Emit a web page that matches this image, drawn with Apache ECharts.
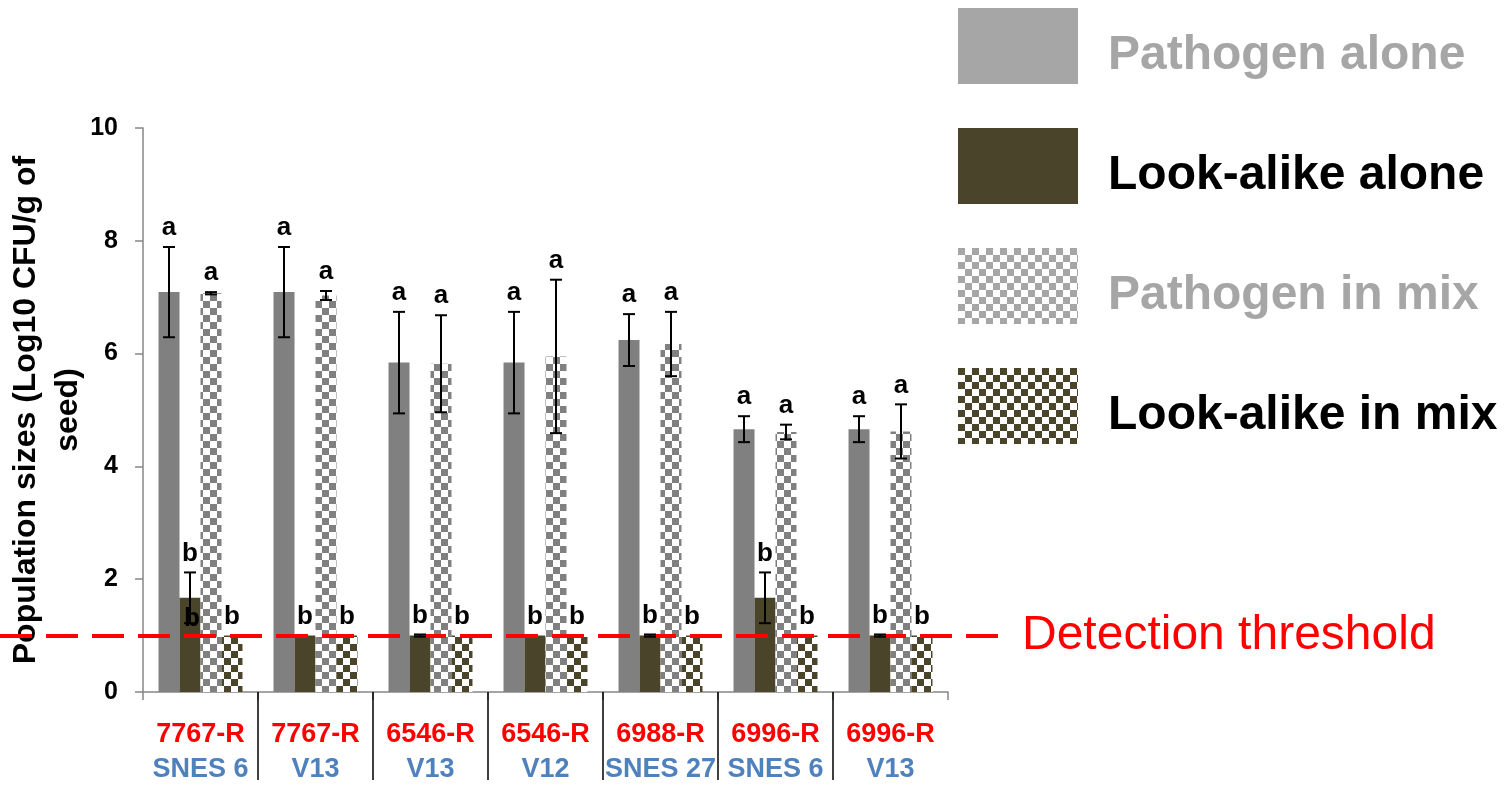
<!DOCTYPE html>
<html>
<head>
<meta charset="utf-8">
<script src="https://cdn.jsdelivr.net/npm/echarts@6/dist/echarts.min.js"></script>
<style>
html,body{margin:0;padding:0;background:#fff;}
#chart{width:1510px;height:789px;}
</style>
</head>
<body>
<div id="chart"></div>
<script>
// ---------------- data ----------------
const strainLabels = ['7767-R', '7767-R', '6546-R', '6546-R', '6988-R', '6996-R', '6996-R'];
const seedLabels = ['SNES 6', 'V13', 'V13', 'V12', 'SNES 27', 'SNES 6', 'V13'];
const seriesNames = ['Pathogen alone', 'Look-alike alone', 'Pathogen in mix', 'Look-alike in mix'];

const pathogenAlone = [7.09, 7.09, 5.84, 5.84, 6.24, 4.66, 4.66];
const pathogenAloneErr = [0.80, 0.80, 0.90, 0.90, 0.46, 0.23, 0.23];
const lookAlikeAlone = [1.67, 1.00, 1.00, 1.00, 1.00, 1.67, 1.00];
const lookAlikeAloneErr = [0.45, 0, 0.02, 0, 0.02, 0.45, 0.02];
const pathogenMix = [7.07, 7.03, 5.82, 5.95, 6.17, 4.61, 4.62];
const pathogenMixErr = [0.02, 0.08, 0.86, 1.36, 0.57, 0.13, 0.48];
const lookAlikeMix = [1.00, 1.00, 1.00, 1.00, 1.00, 1.00, 1.00];
const lookAlikeMixErr = [0, 0, 0, 0, 0, 0, 0];

const pathogenAloneLetters = ['a', 'a', 'a', 'a', 'a', 'a', 'a'];
const lookAlikeAloneLetters = ['b', 'b', 'b', 'b', 'b', 'b', 'b'];
const pathogenMixLetters = ['a', 'a', 'a', 'a', 'a', 'a', 'a'];
const lookAlikeMixLetters = ['b', 'b', 'b', 'b', 'b', 'b', 'b'];
// stray duplicated letter in the original: [category, series, y value, letter]
const extraLetters = [[0, 1, 1.30, 'b']];

const yTicks = [0, 2, 4, 6, 8, 10];
const detectionThreshold = 1.0;
const thresholdLabel = 'Detection threshold';
const yAxisTitle = 'Population sizes (Log10 CFU/g of\nseed)';

// ---------------- styles / layout ----------------
const FONT = "'Liberation Sans', Arial, sans-serif";
const W = 1510, H = 789;
const G_LEFT = 143, G_RIGHT = W - 948, G_TOP = 128, G_BOTTOM = H - 692;
const CAT_GAP = 0.27;
const GRAY = '#808080', OLIVE = '#4A452A', LEG_GRAY = '#A6A6A6';

function checker(fg, size) {
  const c = document.createElement('canvas');
  c.width = c.height = size * 2;
  const ctx = c.getContext('2d');
  ctx.fillStyle = '#ffffff';
  ctx.fillRect(0, 0, size * 2, size * 2);
  ctx.fillStyle = fg;
  ctx.fillRect(0, 0, size, size);
  ctx.fillRect(size, size, size, size);
  return { image: c, repeat: 'repeat' };
}

const values = [pathogenAlone, lookAlikeAlone, pathogenMix, lookAlikeMix];
const errs = [pathogenAloneErr, lookAlikeAloneErr, pathogenMixErr, lookAlikeMixErr];
const letters = [pathogenAloneLetters, lookAlikeAloneLetters, pathogenMixLetters, lookAlikeMixLetters];
const barColors = [GRAY, OLIVE, checker(GRAY, 7), checker(OLIVE, 7)];
const legendColors = [LEG_GRAY, OLIVE, checker(LEG_GRAY, 7), checker(OLIVE, 7)];
const legendTextColors = [LEG_GRAY, '#000000', LEG_GRAY, '#000000'];

function barX(api, cat, j) {
  const bandW = api.size([1, 0])[0];
  const total = bandW * (1 - CAT_GAP);
  const bw = total / 4;
  const cx = api.coord([cat, 0])[0];
  return cx - total / 2 + bw * (j + 0.5);
}

function errRender(j) {
  return function (params, api) {
    const cat = api.value(0), v = api.value(1), e = api.value(2);
    const x = barX(api, cat, j);
    const yT = api.coord([cat, v + e])[1];
    const yB = api.coord([cat, v - e])[1];
    const children = [];
    const ls = { stroke: '#000', lineWidth: 2 };
    if (e > 0) {
      children.push({ type: 'line', shape: { x1: x, y1: yT, x2: x, y2: yB }, style: ls });
      children.push({ type: 'line', shape: { x1: x - 6, y1: yT, x2: x + 6, y2: yT }, style: ls });
      children.push({ type: 'line', shape: { x1: x - 6, y1: yB, x2: x + 6, y2: yB }, style: ls });
    }
    children.push({
      type: 'text',
      style: {
        text: letters[j][params.dataIndex], x: x, y: yT - 6,
        align: 'center', verticalAlign: 'bottom',
        font: 'bold 26px ' + FONT, fill: '#000'
      }
    });
    return { type: 'group', children: children };
  };
}

const series = [];
for (let j = 0; j < 4; j++) {
  series.push({
    name: seriesNames[j], type: 'bar', xAxisIndex: 0, yAxisIndex: 0,
    data: values[j], barGap: '0%', barCategoryGap: (CAT_GAP * 100) + '%',
    itemStyle: { color: barColors[j] }, silent: true, z: 2
  });
}
for (let j = 0; j < 4; j++) {
  series.push({
    name: 'err' + j, type: 'custom', xAxisIndex: 0, yAxisIndex: 0,
    data: values[j].map((v, i) => [i, v, errs[j][i]]),
    encode: { x: 0, y: 1 }, renderItem: errRender(j), silent: true, z: 5, clip: false
  });
}
series.push({
  name: 'extra', type: 'custom', xAxisIndex: 0, yAxisIndex: 0,
  data: extraLetters.map(d => [d[0], d[2], d[1]]),
  encode: { x: 0, y: 1 }, silent: true, z: 5,
  renderItem: function (params, api) {
    const cat = api.value(0), v = api.value(1), j = api.value(2);
    const x = barX(api, cat, j);
    const y = api.coord([cat, v])[1];
    return {
      type: 'text',
      style: { text: extraLetters[params.dataIndex][3], x: x + 2, y: y, align: 'center', verticalAlign: 'middle',
        font: 'bold 26px ' + FONT, fill: '#000' }
    };
  }
});
// detection threshold line (separate wide grid sharing the same y scale)
series.push({
  name: 'threshold', type: 'line', xAxisIndex: 1, yAxisIndex: 1,
  data: [[0, detectionThreshold], [1, detectionThreshold]],
  symbol: 'none', lineStyle: { opacity: 0 }, silent: true, z: 10,
  markLine: {
    silent: true, symbol: 'none', animation: false,
    lineStyle: { color: '#FF0000', width: 4, type: [32, 14] },
    label: { show: true, position: 'end', formatter: thresholdLabel, color: '#FF0000',
      fontSize: 48, fontFamily: FONT, distance: 12 },
    data: [{ yAxis: detectionThreshold }]
  }
});

const bandW = (W - G_LEFT - G_RIGHT) / strainLabels.length;

const option = {
  animation: false,
  backgroundColor: '#ffffff',
  textStyle: { fontFamily: FONT },
  graphic: [{
    type: 'text', silent: true,
    x: 47, y: (G_TOP + (H - G_BOTTOM)) / 2, rotation: Math.PI / 2,
    style: {
      text: yAxisTitle, align: 'center', verticalAlign: 'middle',
      font: 'bold 32px ' + FONT, lineHeight: 42, fill: '#000'
    }
  }],
  legend: {
    orient: 'vertical', left: 958, top: 8, padding: 0,
    itemWidth: 120, itemHeight: 76, itemGap: 44,
    icon: 'rect',
    selectedMode: false,
    formatter: function (name) { return '{t|' + name + '}'; },
    textStyle: {
      fontSize: 48, fontWeight: 'bold', fontFamily: FONT, padding: [0, 0, 0, 25],
      rich: { t: { fontSize: 48, fontWeight: 'bold', fontFamily: FONT, padding: [20, 0, 0, 0] } }
    },
    data: seriesNames.map((n, j) => ({
      name: n, icon: 'rect',
      itemStyle: { color: legendColors[j], borderWidth: 0 },
      textStyle: { color: legendTextColors[j] }
    }))
  },
  grid: [
    { left: G_LEFT, right: G_RIGHT, top: G_TOP, bottom: G_BOTTOM, outerBoundsMode: 'none', containLabel: false },
    { left: 0, right: W - 1010, top: G_TOP, bottom: G_BOTTOM, outerBoundsMode: 'none', containLabel: false },
    { left: G_LEFT + bandW, right: G_RIGHT + bandW, top: G_TOP, bottom: G_BOTTOM, outerBoundsMode: 'none', containLabel: false }
  ],
  xAxis: [
    {
      type: 'category', gridIndex: 0, data: strainLabels,
      axisLine: { lineStyle: { color: '#868686', width: 1.5 } },
      axisTick: { show: true, length: 8, lineStyle: { color: '#868686', width: 1.5 } },
      axisLabel: {
        interval: 0, margin: 25,
        formatter: function (val, idx) { return '{r|' + strainLabels[idx] + '}\n{b|' + seedLabels[idx] + '}'; },
        rich: {
          r: { color: '#FF0000', fontWeight: 'bold', fontSize: 27, fontFamily: FONT, lineHeight: 35 },
          b: { color: '#4F81BD', fontWeight: 'bold', fontSize: 27, fontFamily: FONT, lineHeight: 35 }
        }
      }
    },
    { type: 'value', gridIndex: 1, min: 0, max: 1, show: false },
    {
      type: 'value', gridIndex: 2, min: 0, max: strainLabels.length - 2, interval: 1,
      axisLine: { show: false }, axisLabel: { show: false }, splitLine: { show: false },
      axisTick: { show: true, length: 88, lineStyle: { color: '#000', width: 1.5 } }
    }
  ],
  yAxis: [
    {
      type: 'value', gridIndex: 0, min: yTicks[0], max: yTicks[yTicks.length - 1], interval: 2,
      axisLine: { show: true, lineStyle: { color: '#868686', width: 1.5 } },
      axisTick: { show: true, length: 8, lineStyle: { color: '#868686', width: 1.5 } },
      axisLabel: { fontSize: 25, fontWeight: 'bold', color: '#000', fontFamily: FONT, margin: 25 },
      splitLine: { show: false }
    },
    { type: 'value', gridIndex: 1, min: yTicks[0], max: yTicks[yTicks.length - 1], show: false },
    { type: 'value', gridIndex: 2, min: 0, max: 1, show: false }
  ],
  series: series
};

const chart = echarts.init(document.getElementById('chart'), null, { renderer: 'canvas' });
chart.setOption(option);
</script>
</body>
</html>
